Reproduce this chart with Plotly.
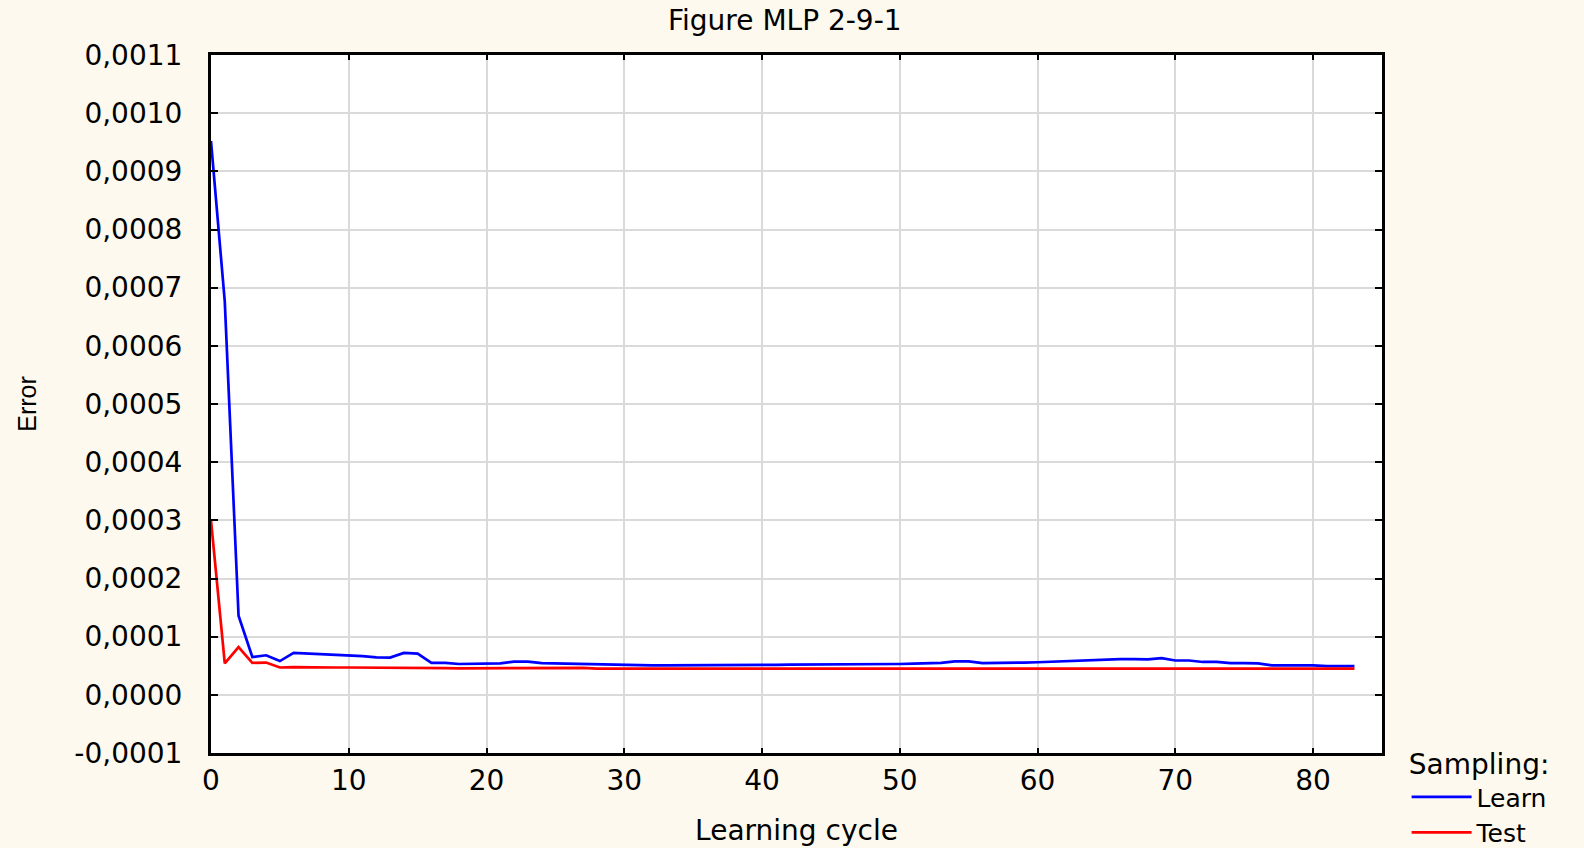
import plotly.graph_objects as go

cycles = list(range(84))

learn = [9.52e-4, 6.76e-4, 1.36e-4, 0.65e-4, 0.68e-4, 0.58e-4, 0.72e-4, 0.71e-4, 0.70e-4, 0.69e-4,
         0.68e-4, 0.665e-4, 0.645e-4, 0.64e-4, 0.72e-4, 0.71e-4, 0.55e-4, 0.55e-4, 0.53e-4, 0.53e-4,
         0.53e-4, 0.54e-4, 0.57e-4, 0.57e-4, 0.545e-4, 0.54e-4, 0.53e-4, 0.53e-4, 0.515e-4, 0.51e-4,
         0.505e-4, 0.505e-4, 0.505e-4, 0.505e-4, 0.505e-4, 0.505e-4, 0.51e-4, 0.51e-4, 0.51e-4, 0.515e-4,
         0.515e-4, 0.515e-4, 0.52e-4, 0.52e-4, 0.52e-4, 0.52e-4, 0.525e-4, 0.525e-4, 0.53e-4, 0.53e-4,
         0.53e-4, 0.535e-4, 0.54e-4, 0.55e-4, 0.575e-4, 0.575e-4, 0.545e-4, 0.545e-4, 0.55e-4, 0.555e-4,
         0.56e-4, 0.57e-4, 0.58e-4, 0.595e-4, 0.605e-4, 0.615e-4, 0.615e-4, 0.615e-4, 0.61e-4, 0.63e-4,
         0.59e-4, 0.59e-4, 0.565e-4, 0.565e-4, 0.545e-4, 0.545e-4, 0.54e-4, 0.505e-4, 0.505e-4, 0.51e-4,
         0.505e-4, 0.495e-4, 0.495e-4, 0.495e-4]

test = [3.0e-4, 0.54e-4, 0.82e-4, 0.55e-4, 0.555e-4, 0.47e-4, 0.475e-4, 0.47e-4, 0.47e-4, 0.47e-4,
        0.47e-4, 0.47e-4, 0.47e-4, 0.47e-4, 0.47e-4, 0.47e-4, 0.46e-4, 0.46e-4, 0.455e-4, 0.455e-4,
        0.455e-4, 0.455e-4, 0.46e-4, 0.46e-4, 0.455e-4, 0.46e-4, 0.465e-4, 0.465e-4, 0.45e-4, 0.45e-4,
        0.45e-4, 0.45e-4, 0.45e-4, 0.45e-4, 0.45e-4, 0.45e-4, 0.45e-4, 0.45e-4, 0.45e-4, 0.45e-4,
        0.45e-4, 0.45e-4, 0.45e-4, 0.45e-4, 0.45e-4, 0.45e-4, 0.45e-4, 0.45e-4, 0.45e-4, 0.45e-4,
        0.45e-4, 0.455e-4, 0.455e-4, 0.455e-4, 0.455e-4, 0.455e-4, 0.455e-4, 0.45e-4, 0.45e-4, 0.45e-4,
        0.45e-4, 0.45e-4, 0.45e-4, 0.45e-4, 0.455e-4, 0.46e-4, 0.46e-4, 0.46e-4, 0.46e-4, 0.455e-4,
        0.45e-4, 0.455e-4, 0.46e-4, 0.46e-4, 0.46e-4, 0.46e-4, 0.46e-4, 0.45e-4, 0.45e-4, 0.45e-4,
        0.45e-4, 0.45e-4, 0.45e-4, 0.45e-4]

y_tickvals = [-0.0001, 0.0, 0.0001, 0.0002, 0.0003, 0.0004, 0.0005, 0.0006,
              0.0007, 0.0008, 0.0009, 0.0010, 0.0011]
y_ticktext = ["-0,0001", "0,0000", "0,0001", "0,0002", "0,0003", "0,0004", "0,0005",
              "0,0006", "0,0007", "0,0008", "0,0009", "0,0010", "0,0011"]
x_tickvals = [0, 10, 20, 30, 40, 50, 60, 70, 80]

FONT = "DejaVu Sans"
fs = 28

fig = go.Figure()
fig.add_trace(go.Scatter(x=cycles, y=learn, mode="lines", name="Learn",
                         line=dict(color="#0000FF", width=2.7)))
fig.add_trace(go.Scatter(x=cycles, y=test, mode="lines", name="Test",
                         line=dict(color="#FF0000", width=2.7)))

fig.update_layout(
    width=1584, height=848,
    margin=dict(l=211, r=202, t=55, b=95, autoexpand=False),
    paper_bgcolor="#FDF9EE",
    plot_bgcolor="#FFFFFF",
    font=dict(family=FONT, size=fs, color="#000000"),
    title=dict(text="Figure MLP 2-9-1", x=0.49, xref="paper", xanchor="center",
               y=1 - 20 / 848, yref="container", yanchor="middle",
               font=dict(family=FONT, size=fs, color="#000000")),
    showlegend=True,
    legend=dict(
        title=dict(text="Sampling:", side="top center",
                   font=dict(family=FONT, size=fs, color="#000000")),
        x=1.021, xref="paper", xanchor="left",
        y=0.022, yref="paper", yanchor="top",
        bgcolor="rgba(0,0,0,0)",
        font=dict(family=FONT, size=25, color="#000000"),
        tracegroupgap=0, itemwidth=60,
    ),
)

fig.update_xaxes(
    range=[0, 85], tickvals=x_tickvals,
    showgrid=True, gridcolor="#DADADA", gridwidth=2,
    zeroline=False,
    showline=True, linecolor="#000000", linewidth=2.5, mirror="ticks",
    ticks="inside", ticklen=5, tickwidth=2, tickcolor="#000000",
    ticklabelstandoff=1,
    tickfont=dict(family=FONT, size=fs, color="#000000"),
    title=dict(text="Learning cycle", standoff=25,
               font=dict(family=FONT, size=fs, color="#000000")),
)
fig.update_yaxes(
    range=[-0.0001, 0.0011], tickvals=y_tickvals, ticktext=y_ticktext,
    showgrid=True, gridcolor="#DADADA", gridwidth=2,
    zeroline=False,
    showline=True, linecolor="#000000", linewidth=3, mirror="ticks",
    ticks="inside", ticklen=7, tickwidth=2, tickcolor="#000000",
    ticklabelstandoff=20,
    tickfont=dict(family=FONT, size=fs, color="#000000"),
    title=dict(text="Error", standoff=31,
               font=dict(family="Liberation Sans", size=25, color="#000000")),
)

fig.write_html("out.html", config={"displayModeBar": False},
               post_script="document.body.style.margin='0';document.body.style.overflow='hidden';")
